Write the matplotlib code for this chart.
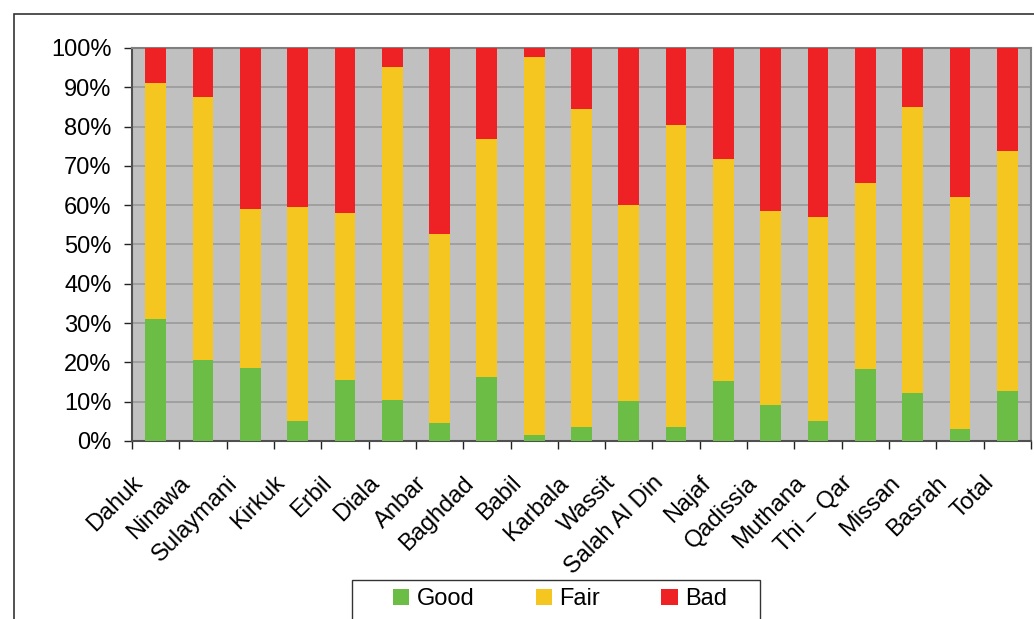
import matplotlib.pyplot as plt
import numpy as np
from matplotlib.patches import Rectangle
from matplotlib.transforms import ScaledTranslation

plt.rcParams['font.family'] = ['Liberation Sans', 'DejaVu Sans']

# провинции и доли (в процентах)
regions = ["Dahuk", "Ninawa", "Sulaymani", "Kirkuk", "Erbil", "Diala", "Anbar",
           "Baghdad", "Babil", "Karbala", "Wassit", "Salah Al Din", "Najaf",
           "Qadissia", "Muthana", "Thi – Qar", "Missan", "Basrah", "Total"]
good = [31.0, 20.5, 18.5, 5.0, 15.5, 10.3, 4.5, 16.3, 1.5, 3.5, 10.2, 3.5,
        15.3, 9.2, 5.0, 18.3, 12.2, 3.0, 12.7]
fair = [60.0, 67.0, 40.5, 54.5, 42.5, 84.9, 48.2, 60.5, 96.1, 81.0, 49.8, 76.9,
        56.5, 49.3, 52.0, 47.4, 72.8, 59.0, 61.1]
bad = [9.0, 12.5, 41.0, 40.5, 42.0, 4.8, 47.3, 23.2, 2.4, 15.5, 40.0, 19.6,
       28.2, 41.5, 43.0, 34.3, 15.0, 38.0, 26.2]

c_good = '#6cbd45'
c_fair = '#f5c61f'
c_bad = '#ee2224'

fig = plt.figure(figsize=(10.34, 6.19), dpi=100)
ax = fig.add_axes([0.1277, 0.2876, 0.8693, 0.6349])

x = np.arange(len(regions))
g = np.array(good)
f = np.array(fair)
b = np.array(bad)
w = 0.44
ax.bar(x, g, w, color=c_good, label='Good', zorder=3)
ax.bar(x, f, w, bottom=g, color=c_fair, label='Fair', zorder=3)
ax.bar(x, b, w, bottom=g + f, color=c_bad, label='Bad', zorder=3)

ax.set_facecolor('#c0c0c0')
ax.set_xlim(-0.5, len(regions) - 0.5)
ax.set_ylim(0, 100)
ax.set_yticks(np.arange(0, 101, 10))
ax.set_yticklabels([f"{v}%" for v in range(0, 101, 10)], fontsize=17)
ax.yaxis.grid(True, color='#9a9a9a', lw=1.2, zorder=1)

# подписи категорий вручную (как в Excel, сдвинуты влево-вниз)
ax.set_xticks([])
lab_tr = ax.get_xaxis_transform() + ScaledTranslation(-0.24, -0.31, fig.dpi_scale_trans)
for i, name in enumerate(regions):
    ax.text(x[i], 0, name, transform=lab_tr, rotation=45, ha='right', va='top',
            rotation_mode='anchor', fontsize=17)

# засечки между категориями
ax.set_xticks(np.arange(-0.5, len(regions), 1), minor=True)
ax.tick_params(axis='x', which='minor', length=5.8, color='#222222', width=1)
ax.tick_params(axis='y', length=5.8, color='#222222', width=1, pad=9)

for s in ['left', 'bottom']:
    ax.spines[s].set_color('#505050')
    ax.spines[s].set_linewidth(1.5)
for s in ['top', 'right']:
    ax.spines[s].set_color('#808080')
    ax.spines[s].set_linewidth(1.5)

leg = fig.legend(loc='center', bbox_to_anchor=(0.5416, 0.032), ncol=3,
                 fontsize=17, frameon=False, handlelength=0.7,
                 handleheight=0.7, handletextpad=0.3, columnspacing=2.6,
                 borderpad=0, borderaxespad=0)

# рамка легенды (низ обрезан)
fig.add_artist(Rectangle((352 / 1034, -0.05), 408 / 1034, 0.05 + 1 - 580 / 619,
                         transform=fig.transFigure, fill=False,
                         ec='#333333', lw=1.0))

# внешняя рамка
fig.add_artist(Rectangle((14 / 1034, -0.1), 1.2, 1 - 14 / 619 + 0.1,
                         transform=fig.transFigure, fill=False,
                         ec='#333333', lw=1.2))

fig.savefig('out.png', dpi=100)
